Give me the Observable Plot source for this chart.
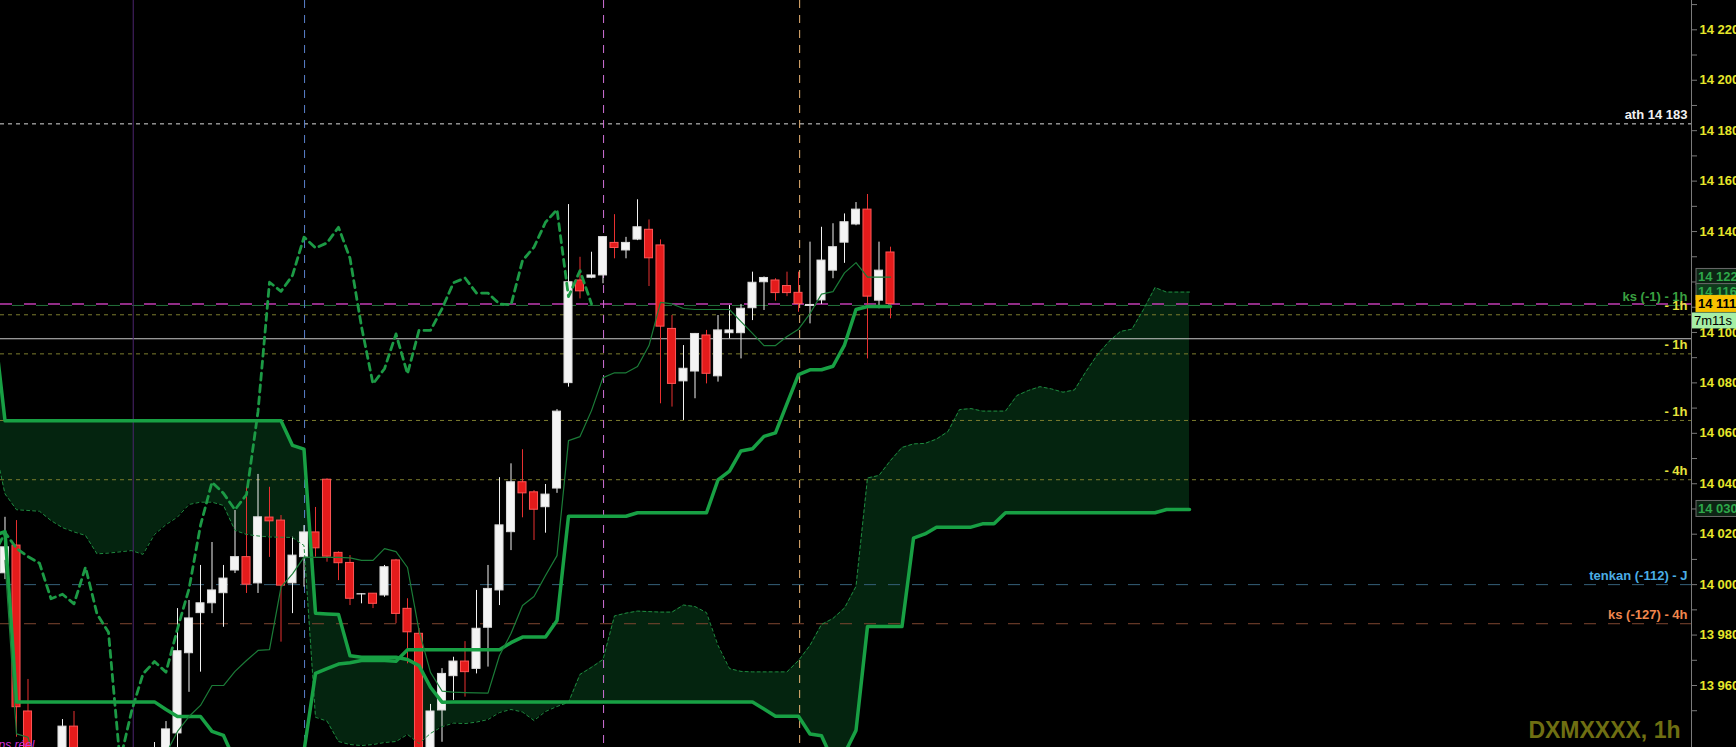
<!DOCTYPE html>
<html>
<head>
<meta charset="utf-8">
<script src="https://cdn.jsdelivr.net/npm/d3@7"></script>
<script src="https://cdn.jsdelivr.net/npm/@observablehq/plot@0.6"></script>
<style>
  html, body { margin: 0; padding: 0; background: #000; overflow: hidden; }
  #chart svg { display: block; }
</style>
</head>
<body>
<div id="chart"></div>
<script>
// bougies 1h, index 0 = premiere bougie visible
let open = [14004.5, 14015.5, 13949.7, 13925, 13912, 13918, 13943.7, 13920, 13910, 13920,
  13915, 13925, 13918, 13915, 13925, 13941, 13972.8, 13988.7, 13992.6, 13996.6,
  14005.6, 14010.9, 14000.5, 14026.6, 14025.4, 14000.5, 14010.9, 14020.7, 14041.6, 14012.6,
  14008.6, 13996.1, 13996.4, 13995.7, 14009.6, 13990.4, 13980.5, 13930, 13950.1, 13963.7,
  13969.5, 13966.6, 13982.9, 13997.7, 14020.8, 14040.6, 14036.6, 14030.7, 14038.1, 14079.9,
  14120.6, 14121.7, 14122.6, 14135.5, 14132.5, 14136.8, 14140.7, 14134.5, 14101.4, 14080.6,
  14084.5, 14098.8, 14082.6, 14099.7, 14099.7, 14109.6, 14119.9, 14120.6, 14118.4, 14115.7,
  14110.5, 14112.7, 14124.5, 14135.6, 14142.8, 14148.7, 14112.6, 14131.7];
let high = [14026.7, 14025.4, 13962.4, 13931, 13922, 13946.5, 13949.7, 13928, 13925, 13930,
  13928, 13932, 13930, 13937.4, 13945.7, 13990.5, 13993.7, 14007.6, 14016.7, 14007.6,
  14029.4, 14038.6, 14043.7, 14038.6, 14027.4, 14018.8, 14023.4, 14030.6, 14042, 14013,
  14011.5, 13996.4, 13996.5, 14007.6, 14010, 13994.4, 13982.6, 13952.5, 13966.7, 13971.2,
  13977.4, 13997.7, 14007.6, 14042.4, 14047.9, 14053.5, 14037.3, 14039.7, 14069.4, 14150.7,
  14129.8, 14131.8, 14138, 14146.7, 14137.7, 14152.6, 14144.6, 14136.7, 14106.7, 14094.8,
  14099.6, 14100.8, 14106.7, 14110.7, 14111.1, 14123.9, 14122, 14121.3, 14123.9, 14123.9,
  14135.8, 14141.7, 14143.1, 14147, 14151.5, 14154.7, 14135.8, 14133.8];
let low = [14002, 13939.5, 13915, 13905, 13898, 13912, 13912, 13905, 13900, 13910,
  13905, 13912, 13908, 13910, 13918, 13930, 13957.3, 13965.3, 13988.5, 13983.1,
  14004.4, 13996.5, 13996.5, 14010.8, 13977.2, 13988.5, 13999, 14010.9, 14008.9, 14001.6,
  13991.7, 13992.4, 13990.5, 13995, 13984.5, 13968.6, 13925, 13926, 13937.5, 13954.1,
  13955.4, 13964.6, 13967.3, 13991.7, 14013.5, 14026.5, 14017.5, 14020.4, 14036.2, 14078.3,
  14113.3, 14121.3, 14119.3, 14129.2, 14129.2, 14136.4, 14118.2, 14071.7, 14070.4, 14065.1,
  14073.7, 14079.6, 14080.3, 14097.5, 14089.5, 14104.7, 14108.7, 14112.4, 14114.2, 14108,
  14103.4, 14111.1, 14121.3, 14127.4, 14142.3, 14089.5, 14109.4, 14105.4];
let close = [14014.8, 13951.4, 13925, 13912, 13918, 13943.7, 13920, 13910, 13920, 13915,
  13925, 13918, 13926, 13933, 13942.6, 13973.6, 13986.6, 13992.6, 13997.7, 14002.4,
  14010.9, 14000, 14026.7, 14025.1, 13999.6, 14011.5, 14020.7, 14014.4, 14011.1, 14008.5,
  13994.4, 13996.2, 13992.4, 14006.9, 13988.4, 13981.1, 13930, 13949.7, 13964.6, 13969.5,
  13965.3, 13982.5, 13998.3, 14023.5, 14040.6, 14036.2, 14029.7, 14035.7, 14068.6, 14119.9,
  14116.3, 14122.6, 14137.8, 14133.5, 14135.5, 14141.7, 14129.4, 14102.3, 14079.6, 14085.6,
  14099.4, 14083.6, 14100.8, 14100.8, 14109.4, 14119.7, 14121.6, 14115.6, 14115.6, 14111.3,
  14110.9, 14128.5, 14133.8, 14143.7, 14148.7, 14114.2, 14124.5, 14111.3];

// ichimoku
let tenkan = [14009.6, 13940.8, 13939.5, 13925, 13920, 13920, 13920, 13920, 13920, 13920,
  13920, 13920, 13920, 13925, 13933, 13941.8, 13947.7, 13952.1, 13960, 13960,
  13965.6, 13969.9, 13973.9, 13974.2, 13999, 14004.3, 14010.9, 14010.8, 14010.8, 14010.8,
  14010.6, 14009.6, 14009.6, 14014.3, 14013.1, 14006.8, 13981.8, 13965.2, 13957.8, 13957.4,
  13957.2, 13957.1, 13957, 13971.9, 13980.6, 13991.7, 13995.3, 14003.6, 14011.5, 14057.1,
  14058.7, 14069, 14082.1, 14084, 14084, 14086.5, 14094.8, 14111.9, 14111.3, 14109.5,
  14109.1, 14109.1, 14109.1, 14109.1, 14104.3, 14099.6, 14094.8, 14094.8, 14098.4, 14101.3,
  14107.5, 14115.2, 14116.2, 14123.6, 14127.7, 14121.9, 14121.9, 14121.9];
// kijun, ssa et ssb commencent a l'index -1 (hors cadre a gauche)
let kijun = [14019.5, 14021, 13953.5, 13953.5, 13953.5, 13953.5, 13953.5, 13953.5, 13953.5, 13953.5,
  13953.5, 13953.5, 13953.5, 13953.5, 13953.5, 13950.5, 13947.7, 13947.7, 13947.7, 13941.8,
  13940.2, 13930, 13925, 13920, 13920, 13920, 13922, 13934, 13964.8, 13966.7,
  13968.5, 13969, 13969.9, 13969.9, 13969.9, 13969.6, 13974.2, 13974.2, 13974.2, 13974.2,
  13974.2, 13974.2, 13974.2, 13974.2, 13974.2, 13977, 13979.2, 13979.2, 13979.2, 13985.8,
  14027.1, 14027.1, 14027.1, 14027.1, 14027.1, 14027.1, 14028.5, 14028.5, 14028.5, 14028.5,
  14028.5, 14028.5, 14028.5, 14041.5, 14045, 14053, 14053.9, 14058.8, 14060.2, 14071.8,
  14083.3, 14085.2, 14085.2, 14086.6, 14095, 14109.1, 14110.3, 14110.3, 14110.3];
let ssa = [14057, 14036, 14029.7, 14029.4, 14029.1, 14025.4, 14022.6, 14020.9, 14019.5, 14012.2,
  14012.5, 14013, 14013.5, 14012, 14019.9, 14023.8, 14026.8, 14031.8, 14032.7, 14032.7,
  14031.4, 14021.5, 14019.9, 14019.3, 14018.9, 14018.8, 14018.7, 14015.5, 13947.4, 13945.9,
  13937.8, 13936.6, 13936.2, 13936.6, 13937.4, 13937.8, 13940.6, 13937, 13941, 13943.7,
  13945.1, 13944.9, 13945.5, 13946.5, 13949.3, 13950.5, 13949.5, 13946.1, 13949.7, 13951.7,
  13953.3, 13964.4, 13967.2, 13970.3, 13987.6, 13988.7, 13989.5, 13989.3, 13989.1, 13989.1,
  13991.9, 13991.3, 13988.9, 13975.9, 13966.7, 13965.6, 13965.4, 13965.4, 13965.4, 13965.4,
  13969.9, 13975.9, 13984.2, 13986.6, 13990.7, 13999.3, 14042.3, 14043.3, 14049.2, 14054.4,
  14055.8, 14056, 14057.7, 14060.7, 14069.4, 14069.8, 14068.8, 14068.8, 14068.8, 14075,
  14077, 14078.5, 14077.6, 14076.3, 14077.2, 14084.5, 14091.2, 14096.4, 14100.4, 14101.3,
  14109.1, 14117.8, 14116, 14116, 14116];
let ssb = [14105, 14065, 14065, 14065, 14065, 14065, 14065, 14065, 14065, 14065,
  14065, 14065, 14065, 14065, 14065, 14065, 14065, 14065, 14065, 14065,
  14065, 14065, 14065, 14065, 14065, 14065, 14055.2, 14053.7, 13988.7, 13988.4,
  13988.2, 13971.8, 13971.2, 13971.2, 13971.2, 13971.2, 13970.3, 13967.9, 13959.3, 13953.4,
  13953.5, 13953.5, 13953.5, 13953.5, 13953.5, 13953.5, 13953.5, 13953.5, 13953.5, 13953.5,
  13953.5, 13953.5, 13953.5, 13953.5, 13953.5, 13953.5, 13953.5, 13953.5, 13953.5, 13953.5,
  13953.5, 13953.5, 13953.5, 13953.5, 13953.5, 13953.5, 13953.5, 13950.7, 13947.8, 13947.8,
  13947.8, 13940.8, 13940.1, 13930, 13933, 13942.2, 13983.4, 13983.4, 13983.4, 13983.4,
  14018.4, 14020.1, 14022.8, 14022.8, 14022.8, 14022.8, 14024.1, 14024.1, 14028.5, 14028.5,
  14028.5, 14028.5, 14028.5, 14028.5, 14028.5, 14028.5, 14028.5, 14028.5, 14028.5, 14028.5,
  14028.5, 14028.5, 14029.8, 14029.8, 14029.8];
let ichimokuStart = -1;
let chikouShift = 26;

// niveaux horizontaux et etiquettes
let levelPrice = [14182.7, 14111.3, 14110.7, 14107, 14097.5, 14091.5, 14065.1, 14041.6, 14000, 13984.5];
let levelLabel = ["ath 14 183", "", "ks (-1) - 1h", "- 1h", "", "- 1h", "- 1h", "- 4h", "tenkan (-112) - J", "ks (-127) - 4h"];
// separateurs verticaux (index de bougie)
let sessionMarks = [11.15, 26.05, 52.05, 69.1];
// axe des prix
let yTicks = [13960, 13980, 14000, 14020, 14040, 14060, 14080, 14100, 14120, 14140, 14160, 14180, 14200, 14220];
let yMinorTicks = [13950, 13970, 13990, 14010, 14030, 14050, 14070, 14090, 14110, 14130, 14150, 14170, 14190, 14210, 14230];
// etiquettes de l'axe a droite
let boxPrice = [14122, 14116, 14030, 14111.3];
let boxText = ["14 122", "14 116", "14 030", "14 111"];
let timerText = "7m11s";
let symbolText = "DXMXXXX, 1h";

// ---- styles (pas des donnees) ----
let levelStyle = [
  { stroke: "#dcdcdc", dash: "4,4", w: 1, text: "#f0f0f0" },
  { stroke: "#c23cb4", dash: "12,12", w: 1.5, text: "#c23cb4" },
  { stroke: "#23703a", dash: "12,12", w: 1, text: "#3aa040", offset: 12 },
  { stroke: "#7d7d2e", dash: "4,4", w: 1, text: "#e6e23c" },
  { stroke: "#c8c8c8", dash: null, w: 1.2, text: "#fff" },
  { stroke: "#7d7d2e", dash: "4,4", w: 1, text: "#e6e23c" },
  { stroke: "#7d7d2e", dash: "4,4", w: 1, text: "#e6e23c" },
  { stroke: "#7d7d2e", dash: "4,4", w: 1, text: "#e6e23c" },
  { stroke: "#35607a", dash: "12,12", w: 1, text: "#4aaee6" },
  { stroke: "#7e4630", dash: "12,12", w: 1, text: "#f0874e" }
];
let markStyle = [
  { stroke: "#4d2470", dash: null },
  { stroke: "#5a80cc", dash: "8,7" },
  { stroke: "#d070d8", dash: "8,7" },
  { stroke: "#eab576", dash: "8,7" }
];

let candles = open.map((o, i) => ({ i, open: o, high: high[i], low: low[i], close: close[i], up: close[i] >= o }));
let cloud = ssa.map((v, k) => ({ i: k + ichimokuStart, ssa: v, ssb: ssb[k] }));
let kijunRows = kijun.map((v, k) => ({ i: k + ichimokuStart, v }));
let tenkanRows = tenkan.map((v, i) => ({ i, v }));
let chikouRows = candles.filter(d => d.i >= chikouShift - 1).map(d => ({ i: d.i - chikouShift, v: d.close }));
let levels = levelPrice.map((p, k) => ({ p, label: levelLabel[k], k }));
let marks = sessionMarks.map((x, k) => ({ x, k }));

let fmt = v => d3.format(",")(v).replace(",", " ");
let font = "'Liberation Sans', Arial, sans-serif";

let plotMarks = [
  Plot.areaY(cloud, { x: "i", y1: "ssa", y2: "ssb", fill: "#04240f", clip: true }),
];
levels.forEach(l => {
  let s = levelStyle[l.k];
  plotMarks.push(Plot.ruleY([l.p], {
    stroke: s.stroke, strokeWidth: s.w, strokeDasharray: s.dash, strokeDashoffset: s.offset || 0
  }));
});
marks.forEach(m => {
  let s = markStyle[m.k];
  plotMarks.push(Plot.ruleX([m.x], { stroke: s.stroke, strokeDasharray: s.dash, strokeWidth: 1 }));
});
plotMarks.push(
  // bougies
  Plot.ruleX(candles, { x: "i", y1: "low", y2: "high", stroke: d => d.up ? "#f2f2f2" : "#e83030", strokeWidth: 1, clip: true }),
  Plot.rect(candles, {
    x1: d => d.i - 0.35, x2: d => d.i + 0.35, y1: "open", y2: "close",
    fill: d => d.up ? "#f4f4f4" : "#e41b1b", stroke: d => d.up ? "#dcdcdc" : "#ff5656", strokeWidth: 1, clip: true
  }),
  // ichimoku
  Plot.line(cloud, { x: "i", y: "ssa", stroke: "#1e8a3f", strokeWidth: 1, strokeDasharray: "3,3", clip: true }),
  Plot.line(cloud, { x: "i", y: "ssb", stroke: "#18a044", strokeWidth: 3.5, clip: true }),
  Plot.line(kijunRows, { x: "i", y: "v", stroke: "#18a044", strokeWidth: 3.5, clip: true }),
  Plot.line(tenkanRows, { x: "i", y: "v", stroke: "#1b7c38", strokeWidth: 1.2, clip: true }),
  Plot.line(chikouRows, { x: "i", y: "v", stroke: "#1c9a45", strokeWidth: 2.8, strokeDasharray: "7,5", clip: true }),
  // etiquettes des niveaux
  Plot.text(levels.filter(l => l.label), {
    y: "p", text: "label", frameAnchor: "right", textAnchor: "end", dx: -4, dy: -9,
    fill: d => levelStyle[d.k].text, fontSize: 13, fontWeight: "bold", fontFamily: font
  }),
  // axe des prix a droite
  Plot.frame({ anchor: "right", stroke: "#7a7a7a" }),
  Plot.axisY(yMinorTicks, { anchor: "right", tickSize: 5, stroke: "#7a7a7a", tickFormat: () => "" }),
  Plot.axisY(yTicks, {
    anchor: "right", tickSize: 5, tickPadding: 3, stroke: "#7a7a7a", fill: "#e6e62a",
    tickFormat: fmt, fontSize: 13, fontWeight: "bold", fontFamily: font
  }),
  Plot.text([symbolText], {
    text: d => d, frameAnchor: "bottom-right", textAnchor: "end", lineAnchor: "bottom", dx: -11, dy: -10,
    fill: "#6f6f12", fontSize: 23, fontWeight: "bold", fontFamily: font
  }),
  Plot.text(["temps réel"], {
    text: d => d, frameAnchor: "bottom-left", textAnchor: "start", lineAnchor: "bottom", dx: -22, dy: 1,
    fill: "#d030d8", fontSize: 12, fontStyle: "italic", fontFamily: font
  })
);

let chart = Plot.plot({
  width: 1736,
  height: 747,
  marginLeft: 0,
  marginRight: 45,
  marginTop: 0,
  marginBottom: 0,
  x: { type: "linear", domain: [-0.3913, 146.652], axis: null },
  y: { domain: [13935.42, 14231.62] },
  color: { type: "identity" },
  style: { background: "#000", color: "#e6e62a", fontFamily: font },
  marks: plotMarks
});

d3.select("#chart").append(() => chart);

// cases de prix sur l'axe (position lue via l'echelle y de Plot)
let y = chart.scale("y");
let svg = d3.select(chart);
let boxStyle = [
  { bg: "#0d2414", border: "#6a6a6a", fg: "#2ea84a" },
  { bg: "#0f3a1c", border: "#6a6a6a", fg: "#2ea84a" },
  { bg: "#0d2414", border: "#6a6a6a", fg: "#2ea84a" },
  { bg: "#f7c100", border: "#f7c100", fg: "#000" }
];
let axisX = 1691;
boxPrice.forEach((p, k) => {
  let cy = y.apply(p);
  let s = boxStyle[k];
  let g = svg.append("g");
  g.append("rect").attr("x", axisX + 5).attr("y", cy - 8).attr("width", 60).attr("height", 16)
    .attr("fill", s.bg).attr("stroke", s.border).attr("stroke-width", 1);
  g.append("text").attr("x", axisX + 7).attr("y", cy).attr("dy", "0.35em").attr("text-anchor", "start")
    .text(boxText[k])
    .attr("fill", s.fg).attr("font-size", 13).attr("font-weight", "bold").attr("font-family", font);
});
let ty = y.apply(boxPrice[3]) + 17;
svg.append("rect").attr("x", axisX + 1).attr("y", ty - 8).attr("width", 60).attr("height", 16).attr("fill", "#a6eea6");
svg.append("text").attr("x", axisX + 3).attr("y", ty).attr("dy", "0.35em").attr("text-anchor", "start")
  .text(timerText)
  .attr("fill", "#000").attr("font-size", 13).attr("font-family", font);
</script>
</body>
</html>
